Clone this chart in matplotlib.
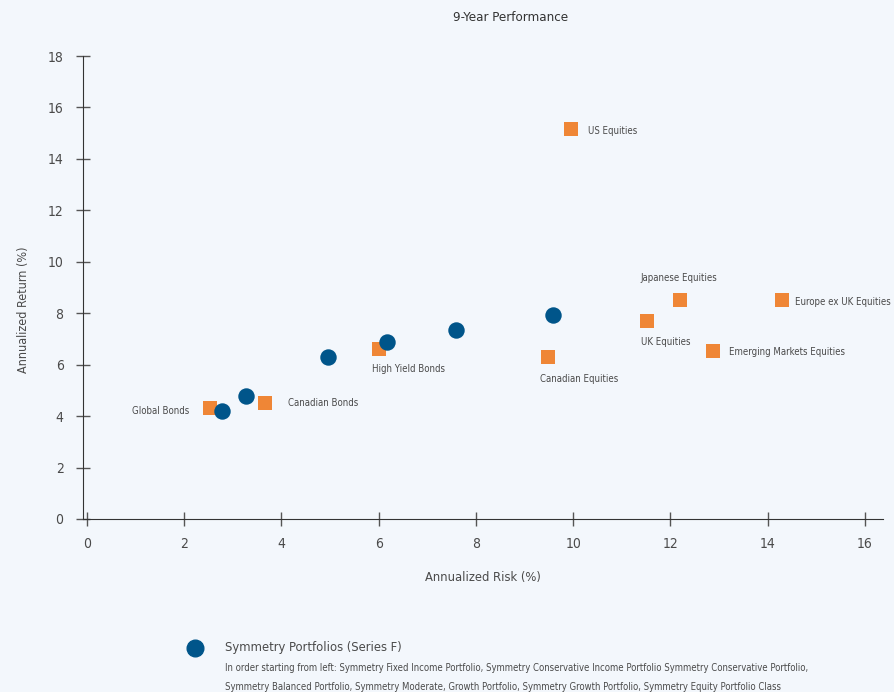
import matplotlib
matplotlib.use("Agg")
import matplotlib.pyplot as plt
from matplotlib.lines import Line2D

# Symmetry portfolios (blue circles), left to right
port_risk = [2.78, 3.28, 4.96, 6.17, 7.58, 9.59]
port_return = [4.2, 4.79, 6.3, 6.89, 7.35, 7.94]

# Market indices (orange squares)
idx_names = ["Global Bonds", "Canadian Bonds", "High Yield Bonds", "Canadian Equities",
             "US Equities", "UK Equities", "Japanese Equities",
             "Emerging Markets Equities", "Europe ex UK Equities"]
idx_risk = [2.53, 3.66, 6.0, 9.49, 9.96, 11.51, 12.2, 12.87, 14.3]
idx_return = [4.32, 4.51, 6.61, 6.3, 15.18, 7.7, 8.52, 6.54, 8.52]

x_ticks = [0, 2, 4, 6, 8, 10, 12, 14, 16]
y_ticks = [0, 2, 4, 6, 8, 10, 12, 14, 16, 18]

BG = "#f3f7fc"
BLUE = "#00558a"
ORANGE = "#ef8636"
TXT = "#4a4a4a"

plt.rcParams['font.family'] = ['DejaVu Sans']
plt.rcParams['font.stretch'] = 'condensed'

fig = plt.figure(figsize=(8.94, 6.92), dpi=100, facecolor=BG)
ax = fig.add_axes([83 / 894, 0.25, 800 / 894, 0.669])
ax.set_facecolor(BG)

ax.scatter(idx_risk, idx_return, marker='s', s=90, color=ORANGE, zorder=3, linewidths=0)
ax.scatter(port_risk, port_return, marker='o', s=140, color=BLUE, zorder=4, linewidths=0)

# label offsets in pixels (dx, dy, ha)
offsets = {
    "Global Bonds": (-21, -3, 'right'),
    "Canadian Bonds": (23, 0, 'left'),
    "High Yield Bonds": (-7, -20, 'left'),
    "Canadian Equities": (-8, -22, 'left'),
    "US Equities": (17, -2, 'left'),
    "UK Equities": (-6, -21, 'left'),
    "Japanese Equities": (-40, 22, 'left'),
    "Emerging Markets Equities": (16, -1, 'left'),
    "Europe ex UK Equities": (13, -2, 'left'),
}
for name, xr, yr in zip(idx_names, idx_risk, idx_return):
    dx, dy, ha = offsets[name]
    ax.annotate(name, (xr, yr), xytext=(dx, dy), textcoords='offset pixels',
                ha=ha, va='center', fontsize=6.9, color=TXT)

ax.set_xlim(-0.08, 16.37)
ax.set_ylim(0, 18)
ax.set_xticks(x_ticks)
ax.set_yticks(y_ticks)
ax.tick_params(axis='both', direction='inout', length=10, width=1, color='#555555',
               labelsize=10, labelcolor=TXT)
ax.tick_params(axis='x', pad=8)
ax.tick_params(axis='y', pad=9)
for s in ['top', 'right']:
    ax.spines[s].set_visible(False)
for s in ['left', 'bottom']:
    ax.spines[s].set_color('#333333')

ax.set_xlabel("Annualized Risk (%)", fontsize=9.3, color=TXT, labelpad=14)
ax.set_ylabel("Annualized Return (%)", fontsize=9.0, color=TXT)
ax.yaxis.set_label_coords(-0.066, 0.451)
fig.text(511 / 894, 0.974, "9-Year Performance", ha='center', va='center', fontsize=9.5, color='#333333')

# legend block
fig.add_artist(Line2D([195 / 894], [1 - 648 / 692], marker='o', markersize=12,
                      color=BLUE, linestyle='none', transform=fig.transFigure))
fig.text(225 / 894, 1 - 647 / 692, "Symmetry Portfolios (Series F)", ha='left', va='center',
         fontsize=9.3, color=TXT)
fig.text(225 / 894, 1 - 668 / 692,
         "In order starting from left: Symmetry Fixed Income Portfolio, Symmetry Conservative Income Portfolio Symmetry Conservative Portfolio,",
         ha='left', va='center', fontsize=6.85, color=TXT)
fig.text(225 / 894, 1 - 687 / 692,
         "Symmetry Balanced Portfolio, Symmetry Moderate, Growth Portfolio, Symmetry Growth Portfolio, Symmetry Equity Portfolio Class",
         ha='left', va='center', fontsize=6.85, color=TXT)

fig.savefig("out.png", dpi=100, facecolor=BG)
